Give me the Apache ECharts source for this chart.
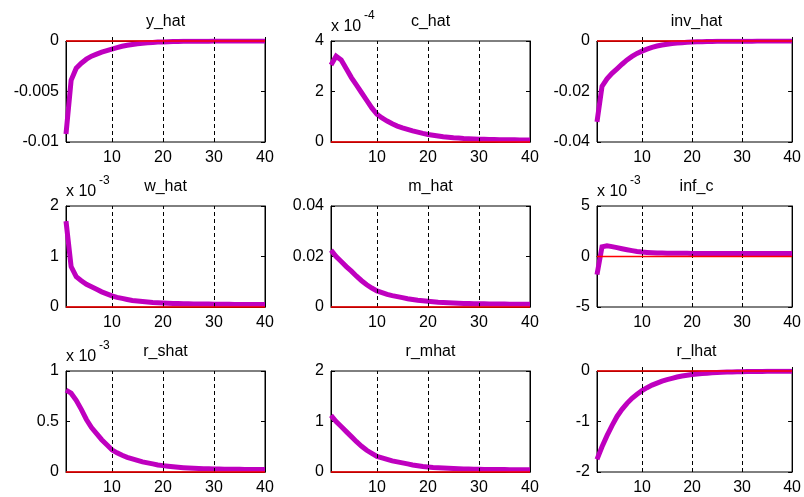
<!DOCTYPE html>
<html>
<head>
<meta charset="utf-8">
<script src="https://cdn.jsdelivr.net/npm/echarts@6/dist/echarts.min.js"></script>
<style>
html,body{margin:0;padding:0;background:#fff;}
#c{width:804px;height:497px;}
</style>
</head>
<body>
<div id="c"></div>
<script>
// Horizon 1..40
const periods = Array.from({length: 40}, (_, i) => i + 1);
const xTickLabels = [10, 20, 30, 40];
const dashedAt = [10, 20, 30];
const zeroLineX = [1, 40];

const titles = ['y_hat', 'c_hat', 'inv_hat', 'w_hat', 'm_hat', 'inf_c', 'r_shat', 'r_mhat', 'r_lhat'];
const exponents = [null, '-4', null, '-3', null, '-3', '-3', null, null];
const yMin = [-0.01, 0, -0.04, 0, 0, -5, 0, 0, -2];
const yMax = [0, 4, 0, 2, 0.04, 5, 1, 2, 0];
const yStep = [0.005, 2, 0.02, 1, 0.02, 5, 0.5, 1, 1];

// values in displayed axis units
const yHat = [-0.0092, -0.0039, -0.0027, -0.0022, -0.0018, -0.0015, -0.0013, -0.0011, -0.00095, -0.0008,
  -0.00065, -0.00052, -0.00042, -0.00034, -0.00027, -0.00022, -0.00018, -0.00014, -0.00011, -0.00009,
  -0.00007, -0.00005, -0.00004, -0.00003, -0.00003, -0.00002, -0.00002, -0.00002, -0.00002, -0.00001,
  -0.00001, -0.00001, -0.00001, -0.00001, -0.00001, -0.00001, -0.00001, -0.00001, -0.00001, -0.00001];
const cHat = [3.05, 3.4, 3.25, 2.9, 2.55, 2.25, 1.95, 1.65, 1.35, 1.1,
  0.95, 0.83, 0.72, 0.63, 0.56, 0.5, 0.44, 0.39, 0.34, 0.3,
  0.27, 0.24, 0.21, 0.19, 0.17, 0.155, 0.14, 0.13, 0.12, 0.11,
  0.105, 0.1, 0.095, 0.09, 0.09, 0.085, 0.085, 0.08, 0.08, 0.08];
const invHat = [-0.032, -0.018, -0.015, -0.0128, -0.011, -0.0092, -0.0075, -0.0061, -0.0049, -0.004,
  -0.0032, -0.0025, -0.002, -0.0016, -0.0013, -0.001, -0.0008, -0.00065, -0.0005, -0.0004,
  -0.0003, -0.00025, -0.0002, -0.00015, -0.00012, -0.0001, -0.00009, -0.00008, -0.00007, -0.00006,
  -0.00005, -0.00005, -0.00004, -0.00004, -0.00003, -0.00003, -0.00003, -0.00002, -0.00002, -0.00002];
const wHat = [1.7, 0.8, 0.6, 0.52, 0.45, 0.4, 0.35, 0.3, 0.26, 0.22,
  0.19, 0.17, 0.15, 0.13, 0.12, 0.11, 0.1, 0.09, 0.085, 0.08,
  0.075, 0.07, 0.07, 0.065, 0.065, 0.06, 0.06, 0.06, 0.06, 0.055,
  0.055, 0.055, 0.055, 0.05, 0.05, 0.05, 0.05, 0.05, 0.05, 0.05];
const mHat = [0.0225, 0.02, 0.018, 0.016, 0.0142, 0.0122, 0.0104, 0.0088, 0.0075, 0.0064,
  0.0057, 0.005, 0.0045, 0.0041, 0.0037, 0.0033, 0.003, 0.0027, 0.0025, 0.0023,
  0.0021, 0.0019, 0.0018, 0.0017, 0.0016, 0.0015, 0.0014, 0.0014, 0.0013, 0.0013,
  0.0013, 0.0012, 0.0012, 0.0012, 0.0012, 0.0011, 0.0011, 0.0011, 0.0011, 0.0011];
const infC = [-1.8, 0.95, 1.05, 0.98, 0.88, 0.77, 0.67, 0.58, 0.5, 0.44,
  0.4, 0.37, 0.35, 0.34, 0.33, 0.32, 0.32, 0.31, 0.31, 0.3,
  0.3, 0.3, 0.3, 0.3, 0.3, 0.3, 0.3, 0.3, 0.3, 0.3,
  0.3, 0.3, 0.3, 0.3, 0.3, 0.3, 0.3, 0.3, 0.3, 0.3];
const rShat = [0.81, 0.78, 0.71, 0.62, 0.52, 0.44, 0.38, 0.32, 0.27, 0.22,
  0.19, 0.165, 0.145, 0.13, 0.115, 0.1, 0.09, 0.08, 0.07, 0.063,
  0.057, 0.052, 0.047, 0.043, 0.04, 0.037, 0.035, 0.033, 0.031, 0.03,
  0.029, 0.028, 0.027, 0.026, 0.026, 0.025, 0.025, 0.024, 0.024, 0.024];
const rMhat = [1.12, 1.0, 0.9, 0.8, 0.7, 0.6, 0.51, 0.43, 0.37, 0.31,
  0.28, 0.25, 0.22, 0.2, 0.18, 0.16, 0.14, 0.125, 0.11, 0.1,
  0.09, 0.085, 0.08, 0.075, 0.07, 0.065, 0.06, 0.06, 0.055, 0.055,
  0.05, 0.05, 0.05, 0.05, 0.05, 0.045, 0.045, 0.045, 0.045, 0.045];
const rLhat = [-1.75, -1.5, -1.28, -1.08, -0.9, -0.76, -0.64, -0.54, -0.46, -0.39,
  -0.33, -0.28, -0.24, -0.2, -0.17, -0.145, -0.12, -0.1, -0.085, -0.07,
  -0.06, -0.05, -0.043, -0.036, -0.03, -0.026, -0.022, -0.019, -0.016, -0.014,
  -0.012, -0.01, -0.009, -0.008, -0.007, -0.006, -0.005, -0.005, -0.004, -0.004];

const allSeries = [yHat, cHat, invHat, wHat, mHat, infC, rShat, rMhat, rLhat];

// layout
const colLeft = [66, 331, 597];
const rowTop = [41, 206, 371];
const plotW = 199, plotH = 101;
const FONT = '"Liberation Sans", Arial, sans-serif';
const FS = 16;
const magenta = '#BF00BF';

const grids = [], xAxes = [], yAxes = [], series = [], graphics = [];
for (let i = 0; i < 9; i++) {
  const r = Math.floor(i / 3), c = i % 3;
  const L = colLeft[c], T = rowTop[r];
  grids.push({left: L, top: T, width: plotW, height: plotH, show: true,
    borderColor: '#000', borderWidth: 1, backgroundColor: '#fff', containLabel: false});
  xAxes.push({
    gridIndex: i, type: 'value', min: 1, max: 40,
    axisLine: {show: true, lineStyle: {color: '#000', width: 1}},
    axisTick: {show: true, inside: true, length: 4, customValues: xTickLabels, lineStyle: {color: '#000'}},
    axisLabel: {show: true, customValues: xTickLabels, color: '#000', fontSize: FS, fontFamily: FONT, margin: 8},
    splitLine: {show: false}
  });
  yAxes.push({
    gridIndex: i, type: 'value', position: 'left', min: yMin[i], max: yMax[i], interval: yStep[i],
    axisLine: {show: true, lineStyle: {color: '#000', width: 1}},
    axisTick: {show: true, inside: true, length: 4, lineStyle: {color: '#000'}},
    axisLabel: {show: true, color: '#000', fontSize: FS, fontFamily: FONT, margin: 7,
      formatter: v => String(parseFloat(v.toPrecision(6)))},
    splitLine: {show: false}
  });
  yAxes.push({
    gridIndex: i, type: 'value', position: 'right', min: yMin[i], max: yMax[i], interval: yStep[i],
    axisLine: {show: true, lineStyle: {color: '#000', width: 1}},
    axisTick: {show: true, inside: true, length: 4, lineStyle: {color: '#000'}},
    axisLabel: {show: false},
    splitLine: {show: false}
  });
  // dashed verticals
  series.push({
    type: 'line', xAxisIndex: i, yAxisIndex: 2 * i, data: [], silent: true, z: 2,
    markLine: {symbol: 'none', silent: true, animation: false, label: {show: false},
      lineStyle: {color: '#000', type: [4, 3], width: 1},
      data: dashedAt.map(v => ({xAxis: v}))}
  });
  series.push({
    type: 'line', xAxisIndex: i, yAxisIndex: 2 * i, z: 4,
    data: periods.map((p, k) => [p, allSeries[i][k]]),
    symbol: 'none', showSymbol: false, animation: false,
    lineStyle: {color: magenta, width: 5, join: 'miter'}
  });
  // red zero line (on top)
  series.push({
    type: 'line', xAxisIndex: i, yAxisIndex: 2 * i, z: 10, zlevel: 0, clip: false, silent: true,
    data: zeroLineX.map(x => [x, 0]), symbol: 'none', showSymbol: false, animation: false,
    lineStyle: {color: '#FF0000', width: 1.5}
  });
  graphics.push({type: 'text', x: L + plotW / 2, y: T - 19,
    style: {text: titles[i], fill: '#000', font: FS + 'px ' + FONT, textAlign: 'center', textVerticalAlign: 'middle'}});
  if (exponents[i]) {
    graphics.push({type: 'text', x: L, y: T - 14,
      style: {text: 'x 10', fill: '#000', font: FS + 'px ' + FONT, textAlign: 'left', textVerticalAlign: 'middle'}});
    graphics.push({type: 'text', x: L + 33, y: T - 25,
      style: {text: exponents[i], fill: '#000', font: '12px ' + FONT, textAlign: 'left', textVerticalAlign: 'middle'}});
  }
}

const chart = echarts.init(document.getElementById('c'), null, {renderer: 'canvas'});
chart.setOption({
  animation: false,
  backgroundColor: '#fff',
  grid: grids, xAxis: xAxes, yAxis: yAxes, series: series, graphic: graphics
});
</script>
</body>
</html>
